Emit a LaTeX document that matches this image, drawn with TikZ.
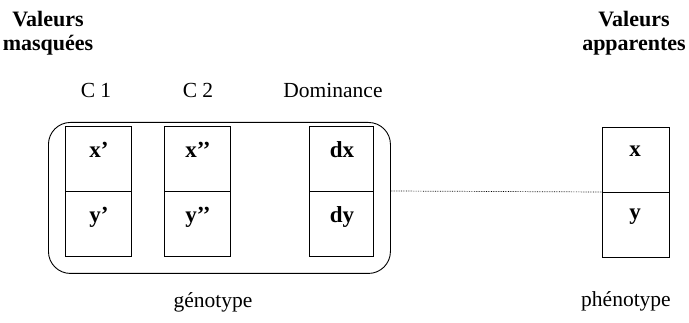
\documentclass[tikz,border=0pt]{standalone}
\usepackage{fontspec}
\setmainfont{Liberation Serif}
\begin{document}
\begin{tikzpicture}[x=1pt,y=-1pt,
  cell/.style={draw,line width=0.9pt,minimum width=66pt,minimum height=65pt,inner sep=0pt,anchor=north west},
  val/.style={font=\fontsize{23}{23}\selectfont\bfseries},
  lab/.style={font=\fontsize{21.5}{21.5}\selectfont},
  head/.style={font=\fontsize{22}{24}\selectfont\bfseries,align=center}]
\useasboundingbox (0,0) rectangle (689,323);
\node[draw,line width=0.9pt,rounded corners=22pt,minimum width=342pt,minimum height=151pt,anchor=north west,inner sep=0pt] (geno) at (48,122) {};
\node[cell] (c1a) at (65,126) {};
\node[cell] (c1b) at (65,191) {};
\node[cell] (c2a) at (164,126) {};
\node[cell] (c2b) at (164,191) {};
\node[cell,minimum width=64pt] (da) at (309,126) {};
\node[cell,minimum width=64pt] (db) at (309,191) {};
\node[cell,minimum width=67pt] (pa) at (602,127) {};
\node[cell,minimum width=67pt] (pb) at (602,192) {};
\node[val] at (99,150) (t1) {x’};
\node[val] at (99,217) (t2) {y’};
\node[val] at (198,150) (t3) {x’’};
\node[val] at (198,217) (t4) {y’’};
\node[val] at (342,150) (t5) {dx};
\node[val] at (342,217) (t6) {dy};
\node[val] at (635,151) (t7) {x};
\node[val] at (635,217) (t8) {y};
\node[lab] (l1) at (96,90) {C 1};
\node[lab] (l2) at (198,90) {C 2};
\node[lab] (l3) at (333,90) {Dominance};
\node[lab] (l4) at (213,302) {génotype};
\node[lab] (l5) at (626,301) {phénotype};
\node[head] (h1) at (48,33) {Valeurs\\masquées};
\node[head] (h2) at (634,33) {Valeurs\\apparentes};
\draw[line width=0.7pt,densely dotted] (geno.east |- db.north) -- (pb.north west);
\end{tikzpicture}
\end{document}
